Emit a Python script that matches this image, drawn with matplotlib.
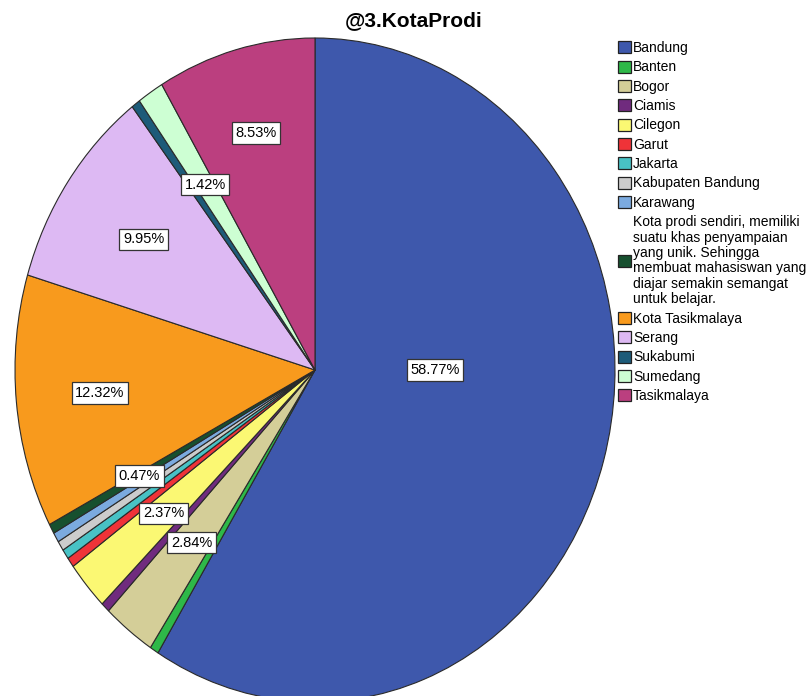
import matplotlib
matplotlib.use("Agg")
import matplotlib.pyplot as plt
from matplotlib.patches import Patch
import numpy as np

plt.rcParams['font.family'] = ['Liberation Sans', 'DejaVu Sans']

categories = ["Bandung", "Banten", "Bogor", "Ciamis", "Cilegon", "Garut", "Jakarta",
              "Kabupaten Bandung", "Karawang",
              "Kota prodi sendiri, memiliki\nsuatu khas penyampaian\nyang unik. Sehingga\nmembuat mahasiswan yang\ndiajar semakin semangat\nuntuk belajar.",
              "Kota Tasikmalaya", "Serang", "Sukabumi", "Sumedang", "Tasikmalaya"]
counts = [124, 1, 6, 1, 5, 1, 1, 1, 1, 1, 26, 21, 1, 3, 18]
show_label = [True, False, True, False, True, False, False, False, False, True,
              True, True, False, True, True]
colors = ["#3E58AC", "#2EB848", "#D4CE98", "#702B7E", "#FBF873", "#EF3338", "#48C2C5",
          "#CCCCCC", "#7BAADF", "#17502F", "#F89A1D", "#DDB9F3", "#1D5B79", "#CDFFD3",
          "#BB3F7F"]
title = "@3.KotaProdi"

# label distance from centre (fraction of radius) for each slice
label_radius = [0.40, 0.69, 0.663, 0.69, 0.664, 0.69, 0.69, 0.69, 0.69, 0.667,
                0.72, 0.694, 0.69, 0.667, 0.74]

W, H = 812, 696
fig = plt.figure(figsize=(W / 100, H / 100), dpi=100)
cx, cy, rx, ry = 315, 370, 300, 332
ax = fig.add_axes([(cx - rx) / W, 1 - (cy + ry) / H, 2 * rx / W, 2 * ry / H])

wedges, texts, autotexts = ax.pie(
    counts, colors=colors, startangle=90, counterclock=False,
    autopct=lambda p: f"{p:.2f}%", pctdistance=0.69,
    wedgeprops=dict(edgecolor="#2a2a2a", linewidth=0.8),
    textprops=dict(fontsize=10.5, color="black"))
ax.set_aspect('auto')
ax.set_xlim(-1, 1)
ax.set_ylim(-1, 1)
for w in wedges:
    w.set_clip_on(False)

for i, (w, t) in enumerate(zip(wedges, autotexts)):
    if not show_label[i]:
        t.set_visible(False)
        continue
    ang = np.deg2rad((w.theta1 + w.theta2) / 2)
    r = label_radius[i]
    t.set_position((r * np.cos(ang), r * np.sin(ang)))
    t.set_bbox(dict(boxstyle="square,pad=0.25", facecolor="white",
                    edgecolor="#333333", linewidth=0.9))
# the largest slice's label sits level with the centre
autotexts[0].set_position((label_radius[0], 0.0))

fig.text(414 / W, 1 - 21 / H, title, ha="center", va="center",
         fontsize=15, fontweight="bold")

handles = [Patch(facecolor=c, edgecolor="#222222", linewidth=0.9) for c in colors]
leg = fig.legend(handles, categories, loc="upper left",
                 bbox_to_anchor=(618 / W, 1 - 41 / H), frameon=False,
                 fontsize=10, handlelength=0.95, handleheight=0.95,
                 handletextpad=0.12, labelspacing=0.385, borderaxespad=0, borderpad=0)
for t in leg.get_texts():
    t.set_linespacing(1.13)

fig.savefig("out.png", dpi=100)
